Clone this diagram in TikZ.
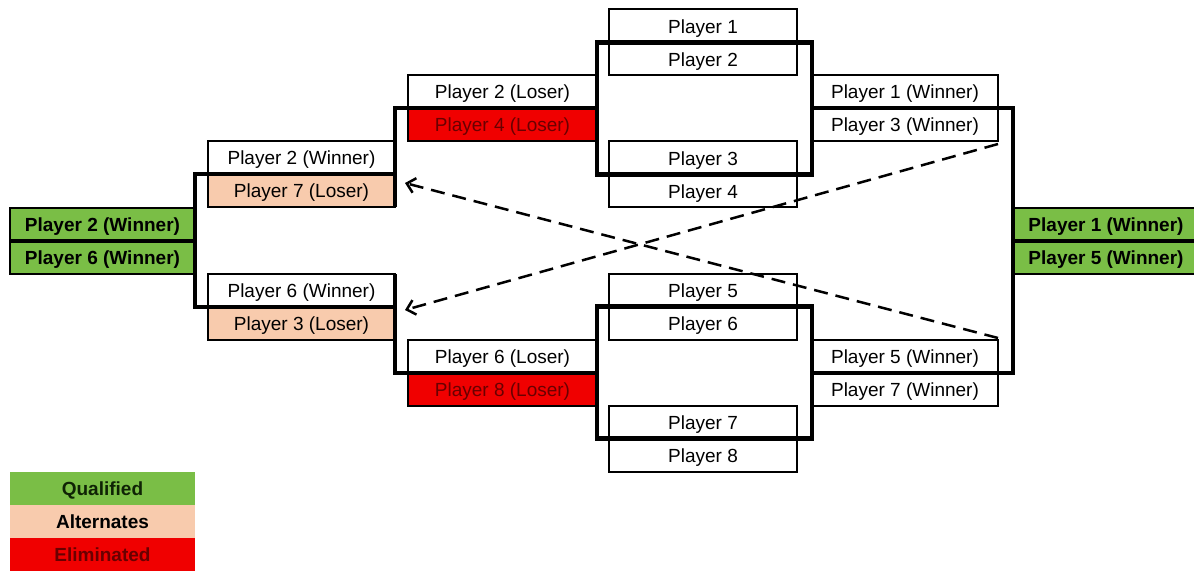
\documentclass[tikz,border=0pt]{standalone}
\usepackage{fontspec}
\setmainfont{Liberation Sans}
\usetikzlibrary{arrows.meta,calc}
\definecolor{qgreen}{RGB}{122,190,70}
\definecolor{apeach}{RGB}{248,203,173}
\definecolor{ered}{RGB}{240,0,0}
\definecolor{etext}{RGB}{105,0,0}
\definecolor{qtext}{RGB}{15,35,5}
\begin{document}
\begin{tikzpicture}[x=1pt,y=-1pt,
  pbox/.style={draw=black, line width=2pt, inner sep=0pt, outer sep=0pt,
    minimum height=33pt, text height=14.5pt, text depth=0pt,
    font=\fontsize{19}{20}\selectfont, fill=white},
  lbox/.style={inner sep=0pt, outer sep=0pt, minimum width=185pt,
    minimum height=33pt, text height=14.5pt, text depth=0pt,
    font=\fontsize{19}{20}\selectfont\bfseries},
  cw/.style={minimum width=188pt},
  rw/.style={minimum width=186pt},
  lw/.style={minimum width=189pt},
  tw/.style={minimum width=187pt},
  fw/.style={minimum width=185pt},
  qual/.style={fill=qgreen, font=\fontsize{19}{20}\selectfont\bfseries},
  alt/.style={fill=apeach},
  elim/.style={fill=ered, text=etext},
  bracket/.style={draw=black, line width=4.5pt, line join=miter},
  dasharr/.style={draw=black, line width=2.5pt, dash pattern=on 14pt off 8pt,
    -{Straight Barb[length=8pt,width=15pt]}}
]
\useasboundingbox[fill=white] (0,0) rectangle (1194,572);

% Round 1 (centre)
\node[pbox,cw] (p1) at (703,26) {Player 1};
\node[pbox,cw] (p2) at (703,59) {Player 2};
\node[pbox,cw] (p3) at (703,158) {Player 3};
\node[pbox,cw] (p4) at (703,191) {Player 4};
\node[pbox,cw] (p5) at (703,290) {Player 5};
\node[pbox,cw] (p6) at (703,323) {Player 6};
\node[pbox,cw] (p7) at (703,422) {Player 7};
\node[pbox,cw] (p8) at (703,455) {Player 8};

% Round 2 right (winners)
\node[pbox,rw] (w1) at (905,91.5) {Player 1 (Winner)};
\node[pbox,rw] (w3) at (905,124.5) {Player 3 (Winner)};
\node[pbox,rw] (w5) at (905,356.5) {Player 5 (Winner)};
\node[pbox,rw] (w7) at (905,389.5) {Player 7 (Winner)};

% Round 2 left (losers)
\node[pbox,lw] (l2) at (502.5,91.5) {Player 2 (Loser)};
\node[pbox,lw,elim] (l4) at (502.5,124.5) {Player 4 (Loser)};
\node[pbox,lw] (l6) at (502.5,356.5) {Player 6 (Loser)};
\node[pbox,lw,elim] (l8) at (502.5,389.5) {Player 8 (Loser)};

% Round 3 left
\node[pbox,tw] (a2) at (301.5,157.5) {Player 2 (Winner)};
\node[pbox,tw,alt] (a7) at (301.5,190.5) {Player 7 (Loser)};
\node[pbox,tw] (a6) at (301.5,290.5) {Player 6 (Winner)};
\node[pbox,tw,alt] (a3) at (301.5,323.5) {Player 3 (Loser)};

% Finals
\node[pbox,fw,qual] (f2) at (102.5,224.5) {Player 2 (Winner)};
\node[pbox,fw,qual] (f6) at (102.5,257.5) {Player 6 (Winner)};
\node[pbox,rw,qual] (g1) at (1106,224.5) {Player 1 (Winner)};
\node[pbox,rw,qual] (g5) at (1106,257.5) {Player 5 (Winner)};

% Brackets
\draw[bracket] (p2.north -| l2.east) rectangle (p3.south -| w1.west);
\draw[bracket] (p6.north -| l6.east) rectangle (p7.south -| w5.west);
\draw[bracket] (l2.south east) -- (l2.south -| a7.east) -- (a7.south east);
\draw[bracket] (a2.south east) -- (a2.south -| f2.east) -- (a3.north -| f2.east) -- (a3.north east);
\draw[bracket] (a6.north east) -- (l6.south -| a6.east) -- (l6.south east);
\draw[bracket] (w1.south west) -- (w1.south -| g1.west) -- (w5.south -| g1.west) -- (w5.south west);
\draw[bracket] (f2.south west) -- (f2.south east);
\draw[bracket] (g1.south west) -- (g1.south east);

% Dashed arrows
\draw[dasharr] ([yshift=-3pt]w3.south east) -- ([xshift=10pt,yshift=-3pt]a3.north east);
\draw[dasharr] ([yshift=2pt]w5.north east) -- ([xshift=10pt,yshift=-9pt]a7.north east);

% Legend
\node[lbox, fill=qgreen, text=qtext] (lq) at (102.5,488.5) {Qualified};
\node[lbox, fill=apeach] (la) at (102.5,521.5) {Alternates};
\node[lbox, fill=ered, text=etext] (le) at (102.5,554.5) {Eliminated};
\end{tikzpicture}
\end{document}
